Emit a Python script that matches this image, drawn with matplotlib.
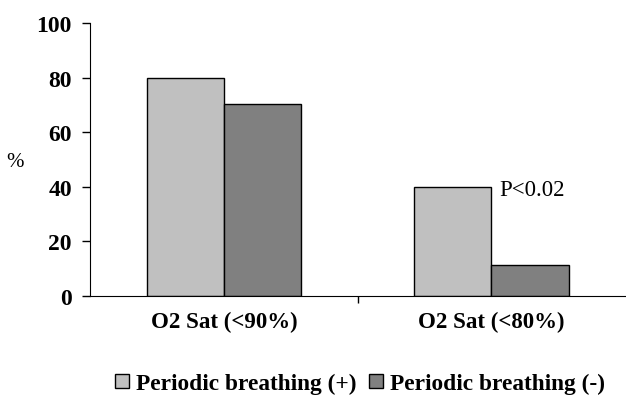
import numpy as np
import matplotlib.pyplot as plt

categories = ['O2 Sat (<90%)', 'O2 Sat (<80%)']
series_names = ['Periodic breathing (+)', 'Periodic breathing (-)']
pb_pos = [80, 40]
pb_neg = [70.5, 11.5]
yticks = [0, 20, 40, 60, 80, 100]

plt.rcParams['font.family'] = ['Liberation Serif', 'DejaVu Serif']

fig = plt.figure(figsize=(6.26, 4.06), dpi=100)
ax = fig.add_axes([0.1438, 0.2685, 0.855, 0.672])

x = np.arange(len(categories))
w = 0.288
b1 = ax.bar(x - w / 2, pb_pos, w, color='#c0c0c0', edgecolor='black', linewidth=1.0,
            label=series_names[0])
b2 = ax.bar(x + w / 2, pb_neg, w, color='#808080', edgecolor='black', linewidth=1.0,
            label=series_names[1])

ax.set_xlim(-0.5, 1.5)
ax.set_ylim(0, 100)
ax.set_yticks(yticks)
ax.set_yticklabels([str(t) for t in yticks], fontsize=17, fontweight='bold')
ax.set_xticks([0.5])
ax.set_xticklabels([''])
ax.tick_params(axis='x', length=5, width=1)
ax.tick_params(axis='y', length=6, width=1, pad=7)

for s in ['top', 'right']:
    ax.spines[s].set_visible(False)

for i, c in enumerate(categories):
    ax.text(x[i], -9.5, c, ha='center', va='center', fontsize=16.5, fontweight='bold')

fig.text(0.024, 0.6, '%', fontsize=15, ha='center', va='center')
ax.text(x[1] + 0.03, 39, 'P<0.02', fontsize=16.5, ha='left', va='center')

fig.legend(handles=[b1, b2], labels=series_names, loc='lower center',
           bbox_to_anchor=(0.575, -0.025), ncol=2, frameon=False,
           prop={'size': 16.8, 'weight': 'bold'}, handlelength=0.6, handleheight=0.6,
           handletextpad=0.3, columnspacing=0.5)

fig.savefig('out.png', dpi=100)
